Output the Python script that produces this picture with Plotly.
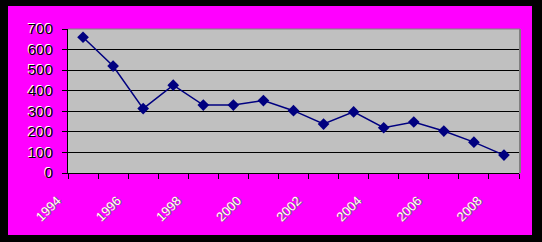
import plotly.graph_objects as go

years = [str(y) for y in range(1994, 2009)]
values = [660, 520, 313, 427, 330, 330, 352, 303, 238, 297, 220, 248, 204, 150, 87]
tick_labels = [y if (int(y) - 1994) % 2 == 0 else "" for y in years]
yticks = [0, 100, 200, 300, 400, 500, 600, 700]

W, H = 542, 242
L, R, T, B = 68, 519, 29, 173

def px(x):
    return (x - L) / (R - L)

def py(y):
    return (B - y) / (B - T)

fig = go.Figure()
fig.add_trace(go.Scatter(
    x=years, y=values, mode="lines+markers",
    line=dict(color="#000080", width=1.5),
    marker=dict(symbol="diamond", size=9, color="#000080"),
    hoverinfo="skip",
))

shapes = [
    # magenta panel
    dict(type="rect", xref="paper", yref="paper", layer="below",
         x0=px(8), x1=px(532), y0=py(235), y1=py(6),
         fillcolor="#FF00FF", line=dict(width=0)),
    # gray plot area
    dict(type="rect", xref="paper", yref="paper", layer="below",
         x0=0, x1=1, y0=0, y1=1,
         fillcolor="#C0C0C0", line=dict(width=0)),
    # plot-area border (gray top/right)
    dict(type="line", xref="paper", yref="paper", layer="above",
         x0=px(L), x1=px(R + 1), y0=py(T), y1=py(T),
         line=dict(color="#808080", width=1)),
    dict(type="line", xref="paper", yref="paper", layer="above",
         x0=px(R + 1), x1=px(R + 1), y0=py(T), y1=py(B),
         line=dict(color="#808080", width=2)),
]

fig.update_layout(
    width=W, height=H,
    margin=dict(l=L, r=W - R, t=T, b=H - B, pad=0),
    paper_bgcolor="#000000",
    plot_bgcolor="#C0C0C0",
    showlegend=False,
    shapes=shapes,
    font=dict(family="Liberation Sans, Arial, sans-serif"),
)
fig.update_xaxes(
    type="category", tickmode="array", tickvals=years, ticktext=tick_labels,
    tickson="boundaries", ticks="outside", ticklen=5, tickcolor="#000000", tickwidth=1,
    showline=True, linecolor="#000000", linewidth=1,
    showgrid=False, tickangle=-45,
    tickfont=dict(size=13, color="#FFFFFF", shadow="1px 1px 0px #707070"),
    ticklabelshift=-26, ticklabelstandoff=14,
    range=[-0.5, 14.5], fixedrange=True,
)
fig.update_yaxes(
    range=[0, 700], tickvals=yticks, ticks="outside", ticklen=5,
    tickcolor="#000000", tickwidth=1,
    showline=True, linecolor="#000000", linewidth=1,
    showgrid=True, gridcolor="#000000", gridwidth=1,
    zeroline=False,
    tickfont=dict(size=15, color="#000000", shadow="-1px -1px 0px #FFFFFF"),
    ticklabelstandoff=6, fixedrange=True,
)

fig.write_html("out.html")
